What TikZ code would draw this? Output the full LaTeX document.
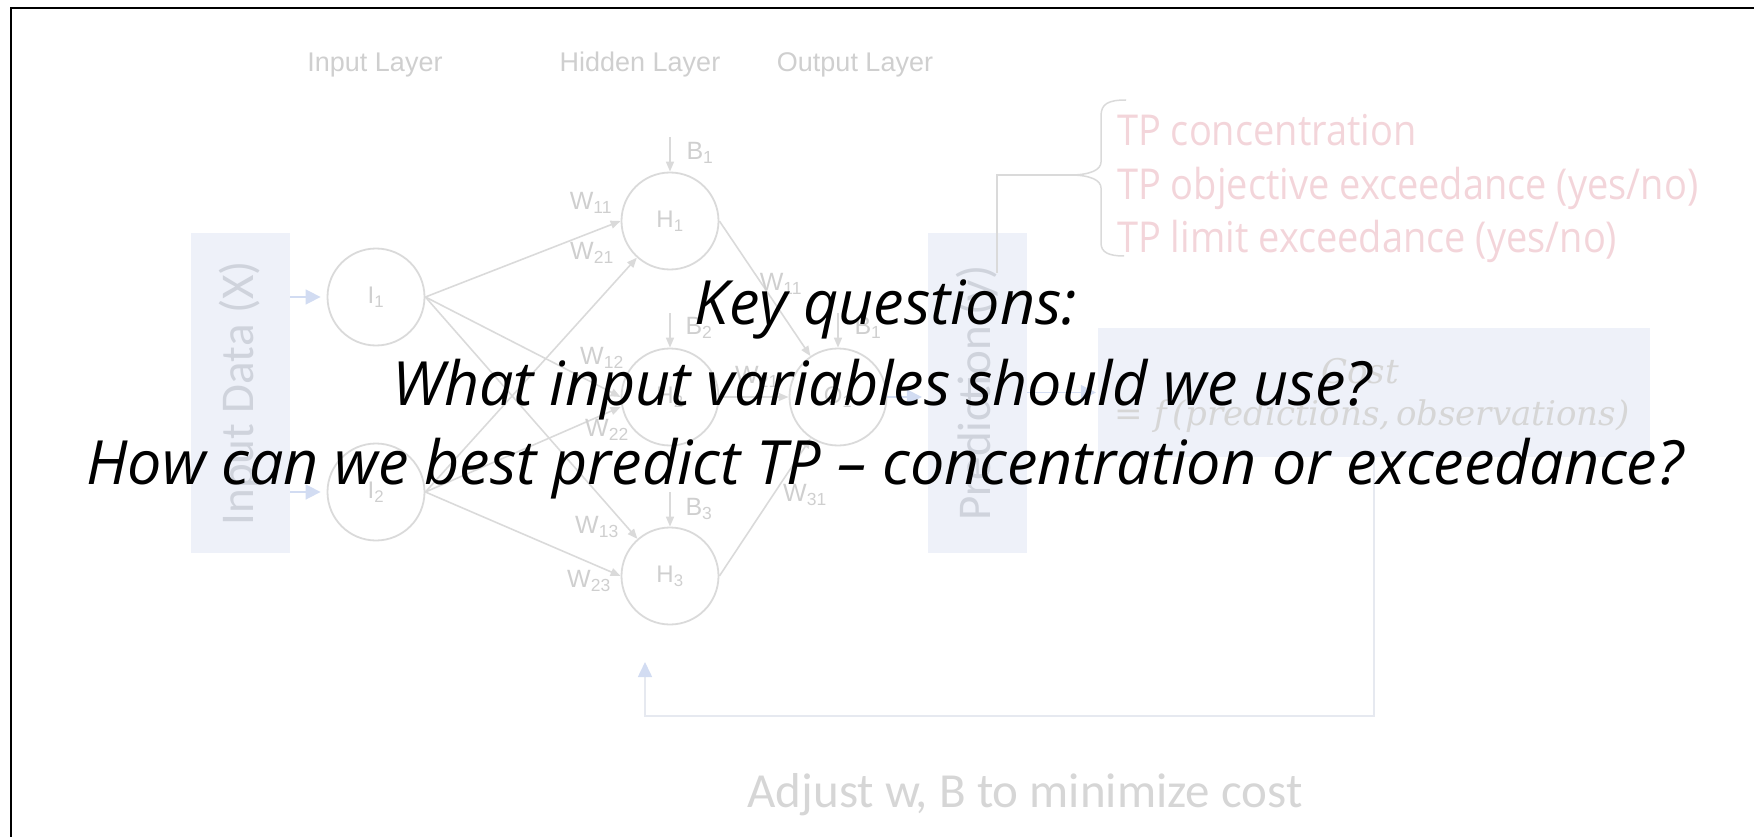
\documentclass[tikz,border=0pt]{standalone}
\usepackage{graphicx}
\usepackage{fontspec}
\setmainfont{Liberation Sans}
\newfontfamily\keyfont{Open Sans}
\newfontfamily\calfont{Carlito}
\newfontfamily\pinkfont{Open Sans}
\newfontfamily\costfont{DejaVu Serif}
\usetikzlibrary{arrows.meta}

\definecolor{netline}{HTML}{DADADA}
\definecolor{netlabel}{HTML}{CFCFCF}
\definecolor{boxfill}{HTML}{EEF1F9}
\definecolor{boxtext}{HTML}{CFD3DC}
\definecolor{flowblue}{HTML}{D2DCF2}
\definecolor{pinktext}{HTML}{F3D5DA}
\definecolor{loopline}{HTML}{E6E9F0}
\definecolor{softtext}{HTML}{D6D6D6}

\begin{document}
\begin{tikzpicture}[x=1pt,y=-1pt,
  neuron/.style={circle,draw=netline,line width=1.8pt,minimum size=97pt,inner sep=0pt,
    font=\fontsize{24}{24}\selectfont,text=netlabel},
  wlabel/.style={font=\fontsize{25}{25}\selectfont,text=netlabel,inner sep=0pt},
  layerlabel/.style={font=\fontsize{27}{27}\selectfont,text=netlabel,anchor=base,inner sep=0pt},
  link/.style={draw=netline,line width=1.6pt,-{Triangle[length=10pt,width=8pt]}},
  databox/.style={fill=boxfill,minimum width=99pt,minimum height=320pt,inner sep=0pt,
    font=\calfont\fontsize{47}{47}\selectfont,text=boxtext},
  flow/.style={draw=flowblue,line width=1.6pt,-{Triangle[length=15pt,width=15pt]},shorten >=6pt},
  braceline/.style={draw=netline,line width=1.5pt},
  pinkline/.style={font=\pinkfont\fontsize{38}{38}\selectfont,text=pinktext,anchor=base west,inner sep=0pt},
  costtext/.style={font=\costfont\itshape\fontsize{34}{34}\selectfont,text=softtext,anchor=base,inner sep=0pt},
  keyline/.style={font=\keyfont\itshape\fontsize{61}{61}\selectfont,text=black,anchor=base,inner sep=0pt},
  ]
\useasboundingbox (0,0) rectangle (1754,837);

% frame
\draw[line width=2.6pt] (11,837) -- (11,8) -- (1754,8);

% layer titles
\node[layerlabel] (tin) at (375,72) {Input Layer};
\node[layerlabel] (thid) at (640,72) {Hidden Layer};
\node[layerlabel] (tout) at (855,72) {Output Layer};

% data boxes
\node[databox] (indata) at (240.5,393) {\rotatebox{90}{Input Data (X)}};
\node[databox] (pred) at (977.5,393) {\rotatebox{90}{Prediction (y)}};

% neurons
\node[neuron] (I1) at (376,297) {I\textsubscript{1}};
\node[neuron] (I2) at (376,492) {I\textsubscript{2}};
\node[neuron] (H1) at (670,221) {H\textsubscript{1}};
\node[neuron] (H2) at (670,397) {H\textsubscript{2}};
\node[neuron] (H3) at (670,576) {H\textsubscript{3}};
\node[neuron] (O1) at (838,397) {O\textsubscript{1}};

% inputs into the first layer
\draw[flow] (indata.east |- I1) -- (I1.west);
\draw[flow] (indata.east |- I2) -- (I2.west);

% weighted links
\draw[link] (I1.east) -- (H1.west);
\draw[link] (I1.east) -- (H2.west);
\draw[link] (I1.east) -- (H3);
\draw[link] (I2.east) -- (H1);
\draw[link] (I2.east) -- ([yshift=-10pt]H2.west);
\draw[link] (I2.east) -- (H3.west);
\draw[link] (H1.east) -- (O1);
\draw[link] (H2.east) -- (O1.west);
\draw[link] (H3.east) -- (O1);

% biases
\coordinate (b1) at (670,137);
\coordinate (b2) at (670,313);
\coordinate (b3) at (670,492);
\coordinate (bo) at (838,313);
\draw[link] (b1) -- (H1.north);
\draw[link] (b2) -- (H2.north);
\draw[link] (b3) -- (H3.north);
\draw[link] (bo) -- (O1.north);
\node[wlabel] (lb1) at (700,153) {B\textsubscript{1}};
\node[wlabel] (lb2) at (699,328) {B\textsubscript{2}};
\node[wlabel] (lb3) at (699,509) {B\textsubscript{3}};
\node[wlabel] (lbo) at (868,328) {B\textsubscript{1}};

% weight labels
\node[wlabel] (w11) at (591,203) {W\textsubscript{11}};
\node[wlabel] (w21) at (592,253) {W\textsubscript{21}};
\node[wlabel] (w12) at (602,358) {W\textsubscript{12}};
\node[wlabel] (w22) at (607,430) {W\textsubscript{22}};
\node[wlabel] (w13) at (597,527) {W\textsubscript{13}};
\node[wlabel] (w23) at (589,581) {W\textsubscript{23}};
\node[wlabel] (v11) at (781,284) {W\textsubscript{11}};
\node[wlabel] (v21) at (757,377) {W\textsubscript{21}};
\node[wlabel] (v31) at (805,495) {W\textsubscript{31}};

% output to predictions, predictions to cost
\draw[flow] (O1.east) -- (pred.west |- O1);
\node[fill=boxfill,minimum width=552pt,minimum height=129pt,inner sep=0pt] (cost) at (1374,392.5) {};
\draw[flow,shorten >=2pt] (pred.east |- cost.west) -- (cost.west);
\node[costtext] (costword) at (1360,383) {Cost};
\node[costtext] (costeq) at (1372,425) {\upshape=\itshape\ f\,(predictions,\,observations)};

% target options, gathered by a brace
\coordinate (predtap) at (997,273);
\coordinate (bracetip) at (1070,175);
\draw[braceline] (predtap) |- (bracetip);
\draw[braceline] (1126,100) .. controls (1108,100) and (1101,104) .. (1101,116)
  -- (1101,162) .. controls (1101,170) and (1090,175) .. (bracetip)
  .. controls (1090,175) and (1101,180) .. (1101,188)
  -- (1101,243) .. controls (1101,252) and (1108,256) .. (1124,256);
\node[pinkline] (tp1) at (1117,146) {\scalebox{1}[1.12]{TP concentration}};
\node[pinkline] (tp2) at (1117,200) {\scalebox{1}[1.12]{TP objective exceedance (yes/no)}};
\node[pinkline] (tp3) at (1117,253) {\scalebox{1}[1.12]{TP limit exceedance (yes/no)}};

% feedback loop
\coordinate (looptip) at (645,662);
\draw[draw=loopline,line width=1.6pt,-{Triangle[length=15pt,width=14pt,color=flowblue,fill=flowblue]}]
  (cost.south) -- ++(0,259) -| (looptip);
\node[font=\calfont\fontsize{49}{49}\selectfont,text=softtext,anchor=base,inner sep=0pt] (adjust) at (1025,807) {Adjust w, B to minimize cost};

% questions on top
\node[keyline] (kq1) at (886,324) {Key questions:};
\node[keyline] (kq2) at (882,405) {What input variables should we use?};
\node[keyline] (kq3) at (885,484) {How can we best predict TP – concentration or exceedance?};
\end{tikzpicture}
\end{document}
